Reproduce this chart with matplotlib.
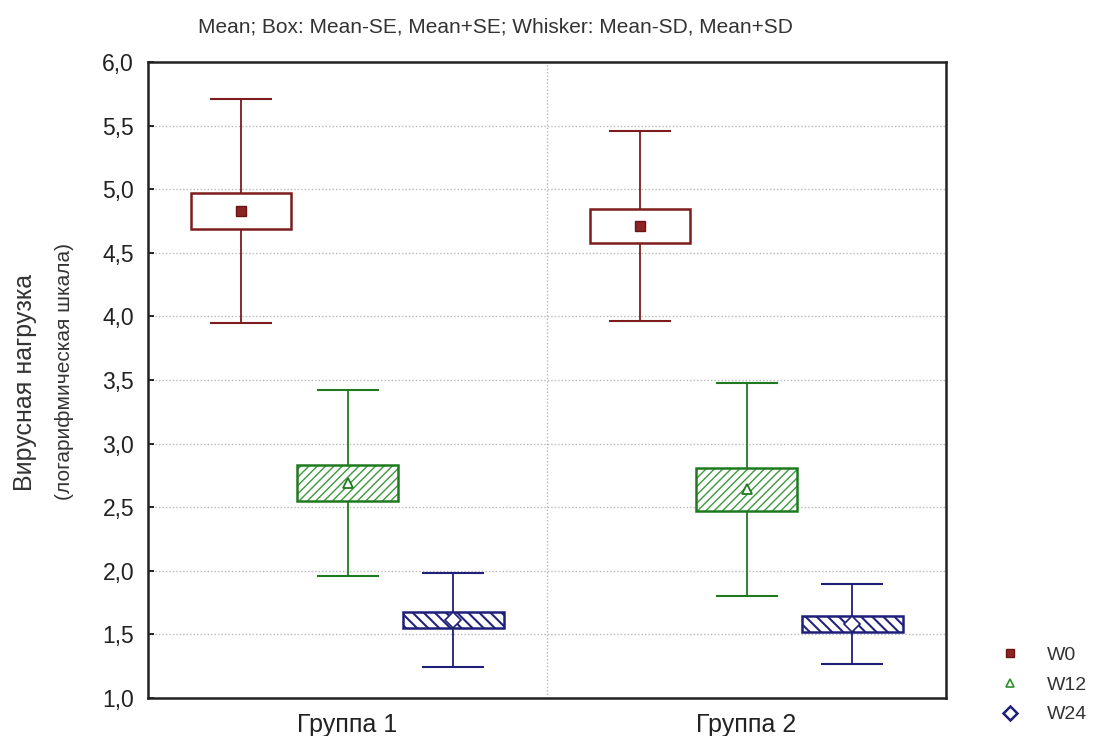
import matplotlib
matplotlib.use("Agg")
import matplotlib.pyplot as plt
from matplotlib.lines import Line2D
import numpy as np

plt.rcParams['font.family'] = ['Liberation Sans', 'DejaVu Sans']

groups = ['Группа 1', 'Группа 2']
series = ['W0', 'W12', 'W24']
means = {'W0': [4.83, 4.71], 'W12': [2.69, 2.64], 'W24': [1.61, 1.58]}
se = {'W0': [0.14, 0.135], 'W12': [0.145, 0.17], 'W24': [0.063, 0.063]}
sd = {'W0': [0.88, 0.745], 'W12': [0.73, 0.835], 'W24': [0.37, 0.314]}
yticks = [1.0, 1.5, 2.0, 2.5, 3.0, 3.5, 4.0, 4.5, 5.0, 5.5, 6.0]
title = 'Mean; Box: Mean-SE, Mean+SE; Whisker: Mean-SD, Mean+SD'

colors = {'W0': '#7d1c1c', 'W12': '#1f7a1f', 'W24': '#1f1f7a'}
hatch_colors = {'W0': '#7d1c1c', 'W12': '#3c9a3c', 'W24': '#23237f'}
hatches = {'W0': None, 'W12': '////', 'W24': '\\\\\\'}
hatch_lw = {'W0': 1.0, 'W12': 1.0, 'W24': 1.5}
offsets = {'W0': -0.267, 'W12': 0.0, 'W24': 0.265}
mstyle = {'W0': dict(marker='s', ms=7, mfc='#8b2525', mec='#6a1414', mew=1.0),
          'W12': dict(marker='^', ms=7, mfc='white', mec='#1f7a1f', mew=1.3),
          'W24': dict(marker='D', ms=8.5, mfc='white', mec='#1f1f7a', mew=1.2)}
lstyle = {'W0': dict(marker='s', ms=6, mfc='#8b2525', mec='#6a1414', mew=1.0),
          'W12': dict(marker='^', ms=5.5, mfc='white', mec='#2f8f2f', mew=1.2),
          'W24': dict(marker='D', ms=7, mfc='white', mec='#1f1f7a', mew=1.8)}

fig = plt.figure(figsize=(10.95, 7.36), dpi=100)
ax = fig.add_axes([148/1095, 1-698/736, (946-148)/1095, (698-62)/736])

x0 = np.arange(len(groups))
box_w = 0.252
cap = 22.5

for s in series:
    xs = x0 + offsets[s]
    m = np.array(means[s]); e = np.array(se[s]); d = np.array(sd[s])
    ax.errorbar(xs, m, yerr=d, fmt='none', ecolor=colors[s], elinewidth=1.3,
                capsize=cap, capthick=1.5, zorder=3)
    with plt.rc_context({'hatch.linewidth': hatch_lw[s]}):
        if hatches[s]:
            bars = ax.bar(xs, 2*e, bottom=m-e, width=box_w, color='white',
                          edgecolor=hatch_colors[s], hatch=hatches[s], linewidth=0, zorder=4)
        else:
            bars = ax.bar(xs, 2*e, bottom=m-e, width=box_w, color='white', linewidth=0, zorder=4)
    for b in bars:
        if hasattr(b, 'set_hatch_linewidth'):
            b.set_hatch_linewidth(hatch_lw[s])
    ax.bar(xs, 2*e, bottom=m-e, width=box_w, fill=False,
           edgecolor=colors[s], linewidth=1.8, zorder=5)
    ax.plot(xs, m, linestyle='none', zorder=6, **mstyle[s])

ax.set_xlim(-0.5, 1.5)
ax.set_ylim(1.0, 6.0)
ax.set_yticks(yticks)
ax.set_yticklabels([f'{v:.1f}'.replace('.', ',') for v in yticks], fontsize=16.5, color='#222222')
ax.set_xticks(x0)
ax.set_xticklabels(groups, fontsize=18, color='#222222')
ax.tick_params(axis='y', direction='in', length=4, width=1.2, pad=10)
ax.tick_params(axis='x', length=0, pad=11)

for yv in yticks[1:-1]:
    ax.axhline(yv, color='#b8b8b8', lw=1.0, linestyle=(0, (1, 1.5)), zorder=1)
ax.axvline(0.5, color='#b8b8b8', lw=1.0, linestyle=(0, (1, 1.5)), zorder=1)

for sp in ax.spines.values():
    sp.set_linewidth(1.8)
    sp.set_color('#222222')

fig.text(495/1095, 1-27/736, title, ha='center', va='center', fontsize=15, color='#333333')
fig.text(25/1095, 1-382/736, 'Вирусная нагрузка', rotation=90, ha='center', va='center',
         fontsize=18, color='#333333')
fig.text(65/1095, 1-372/736, '(логарифмическая шкала)', rotation=90, ha='center', va='center',
         fontsize=15, color='#333333')

handles = [Line2D([], [], linestyle='none', **lstyle[s]) for s in series]
fig.legend(handles, series, loc='center left', bbox_to_anchor=(1000/1095, 1-685/736),
           frameon=False, fontsize=14, handletextpad=1.4, labelspacing=0.62,
           handlelength=1.0, borderpad=0, borderaxespad=0, labelcolor='#333333')

fig.savefig('out.png', dpi=100)
